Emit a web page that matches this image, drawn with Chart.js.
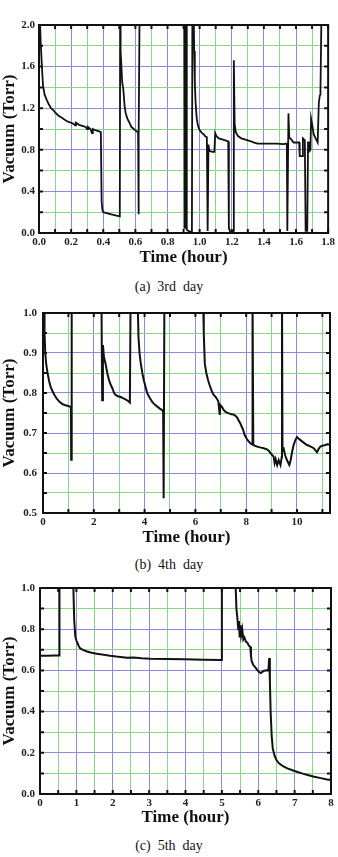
<!DOCTYPE html>
<html>
<head>
<meta charset="utf-8">
<script src="https://cdn.jsdelivr.net/npm/chart.js@4/dist/chart.umd.min.js"></script>
<style>
  html, body { margin:0; padding:0; background:#fff; }
  body { width:338px; height:857px; position:relative; overflow:hidden; }
  .box { position:absolute; left:0; width:338px; }
  .cap { position:absolute; left:0; width:338px; text-align:center; font-family:'Liberation Serif','Times New Roman',serif; font-size:14px; line-height:16px; color:#111; }
</style>
</head>
<body>
<div class="box" style="top:0;height:272px"><canvas id="cA" width="338" height="272"></canvas></div>
<div class="cap" style="top:279px">(a)&nbsp; 3rd&nbsp; day</div>
<div class="box" style="top:295px;height:255px"><canvas id="cB" width="338" height="255"></canvas></div>
<div class="cap" style="top:557px">(b)&nbsp; 4th&nbsp; day</div>
<div class="box" style="top:575px;height:255px"><canvas id="cC" width="338" height="255"></canvas></div>
<div class="cap" style="top:838px">(c)&nbsp; 5th&nbsp; day</div>
<script>
// ---------- (a) 3rd day ----------
const timeA = [0.000,0.005,0.010,0.018,0.025,0.035,0.048,0.060,0.075,0.090,0.100,0.120,0.140,0.160,0.180,0.200,0.215,0.225,0.230,0.250,0.270,0.290,0.300,0.305,0.320,0.330,0.335,0.350,0.370,0.385,0.390,0.395,0.400,0.450,0.503,0.506,0.508,0.513,0.518,0.525,0.533,0.540,0.550,0.560,0.575,0.590,0.605,0.617,0.619,0.622,0.627,0.700,0.800,0.905,0.907,0.911,0.914,0.917,0.920,0.930,0.945,0.952,0.955,0.962,0.966,0.970,0.975,0.982,0.990,1.000,1.015,1.025,1.035,1.045,1.050,1.055,1.060,1.080,1.092,1.097,1.105,1.120,1.140,1.160,1.178,1.182,1.190,1.200,1.208,1.213,1.218,1.225,1.240,1.260,1.280,1.300,1.320,1.340,1.360,1.380,1.400,1.440,1.480,1.520,1.543,1.546,1.550,1.553,1.558,1.570,1.585,1.605,1.620,1.623,1.640,1.643,1.650,1.655,1.660,1.670,1.675,1.680,1.690,1.694,1.700,1.710,1.725,1.735,1.742,1.748,1.752,1.760];
const vacA  = [2.30,2.10,1.85,1.60,1.42,1.33,1.28,1.24,1.20,1.18,1.16,1.13,1.11,1.09,1.07,1.06,1.05,1.035,1.06,1.04,1.03,1.02,1.00,1.02,1.00,0.96,1.00,0.99,0.98,0.97,0.30,0.22,0.20,0.18,0.16,2.30,1.75,1.60,1.45,1.38,1.22,1.15,1.10,1.07,1.02,1.00,0.98,0.97,0.18,0.95,2.30,2.30,2.30,2.30,0.05,0.05,2.30,2.30,0.03,0.02,0.01,0.00,2.30,2.30,1.75,1.45,1.25,1.10,1.03,0.99,0.96,0.95,0.93,0.92,0.02,0.85,0.79,0.78,0.78,0.96,0.93,0.91,0.90,0.89,0.88,0.05,0.01,0.00,0.02,1.66,1.05,0.97,0.93,0.91,0.90,0.89,0.88,0.87,0.86,0.86,0.86,0.86,0.86,0.855,0.86,0.02,0.02,1.15,0.92,0.90,0.87,0.87,0.87,0.74,0.74,0.91,0.90,0.88,0.02,0.02,0.88,0.78,0.80,1.10,1.05,0.95,0.90,0.87,1.25,1.32,1.33,2.30];

// ---------- (b) 4th day ----------
const timeB = [0.00,0.04,0.06,0.09,0.13,0.18,0.24,0.30,0.37,0.45,0.55,0.65,0.75,0.85,0.96,1.06,1.10,1.11,1.13,2.30,2.33,2.36,2.40,2.46,2.53,2.60,2.67,2.73,2.80,2.86,2.95,3.06,3.15,3.25,3.35,3.42,3.45,3.72,3.76,3.80,3.85,3.91,3.97,4.04,4.10,4.20,4.30,4.40,4.50,4.60,4.70,4.73,4.75,4.78,6.30,6.33,6.37,6.43,6.50,6.56,6.63,6.70,6.80,6.90,6.96,6.98,7.05,7.12,7.20,7.32,7.42,7.51,7.58,7.64,7.70,7.77,7.83,7.88,7.94,8.01,8.08,8.17,8.23,8.25,8.28,8.35,8.43,8.55,8.69,8.82,8.90,8.95,9.02,9.08,9.12,9.16,9.22,9.28,9.35,9.40,9.41,9.43,9.48,9.53,9.60,9.66,9.70,9.75,9.80,9.86,9.94,10.00,10.10,10.20,10.30,10.40,10.50,10.60,10.66,10.72,10.79,10.85,10.92,11.00,11.12,11.20,11.31];
const vacB  = [1.05,1.05,0.95,0.90,0.87,0.85,0.83,0.815,0.805,0.795,0.785,0.778,0.773,0.770,0.768,0.766,0.765,0.633,1.05,1.05,0.782,0.92,0.89,0.874,0.85,0.832,0.82,0.812,0.80,0.795,0.792,0.79,0.787,0.784,0.78,0.776,1.05,1.05,0.94,0.90,0.874,0.85,0.832,0.815,0.80,0.788,0.778,0.771,0.766,0.761,0.757,0.753,0.537,1.05,1.05,0.95,0.874,0.85,0.832,0.82,0.807,0.797,0.79,0.78,0.745,0.77,0.765,0.757,0.752,0.749,0.747,0.746,0.743,0.739,0.732,0.724,0.715,0.708,0.695,0.687,0.680,0.674,0.672,1.05,0.670,0.668,0.666,0.664,0.662,0.659,0.655,0.650,0.645,0.641,0.625,0.635,0.620,0.632,0.620,0.64,1.05,0.655,0.660,0.645,0.633,0.625,0.620,0.632,0.650,0.668,0.683,0.690,0.684,0.679,0.674,0.670,0.667,0.664,0.662,0.657,0.652,0.660,0.666,0.668,0.670,0.672,0.671];

// ---------- (c) 5th day ----------
const timeC = [0.00,0.20,0.40,0.53,0.535,0.91,0.94,0.97,1.00,1.03,1.06,1.10,1.18,1.29,1.42,1.56,1.75,1.93,2.10,2.21,2.40,2.57,2.80,3.03,3.50,3.95,4.50,4.98,5.00,5.37,5.40,5.43,5.45,5.47,5.49,5.51,5.53,5.56,5.59,5.62,5.66,5.70,5.74,5.78,5.80,5.82,5.86,5.92,5.97,6.02,6.07,6.12,6.16,6.25,6.28,6.30,6.32,6.34,6.37,6.40,6.45,6.50,6.57,6.68,6.80,6.94,7.08,7.22,7.36,7.54,7.72,7.86,8.00];
const vacC  = [0.671,0.671,0.672,0.672,1.05,1.05,0.846,0.765,0.745,0.733,0.72,0.708,0.70,0.692,0.686,0.681,0.676,0.671,0.667,0.665,0.662,0.663,0.659,0.657,0.655,0.654,0.652,0.651,1.05,1.05,0.90,0.846,0.80,0.84,0.76,0.82,0.77,0.80,0.75,0.76,0.74,0.735,0.72,0.715,0.67,0.645,0.627,0.615,0.603,0.592,0.587,0.594,0.598,0.601,0.60,0.66,0.55,0.40,0.28,0.22,0.185,0.165,0.149,0.135,0.124,0.115,0.107,0.099,0.092,0.084,0.077,0.072,0.068];

const FONT = "'Liberation Serif','Times New Roman',serif";
const BLUE = '#8c8cde';
const GREEN = '#86d886';
Chart.defaults.font.family = FONT;
Chart.defaults.color = '#111';

function isMajor(v, step) {
  const r = v / step;
  return Math.abs(r - Math.round(r)) < 1e-6;
}

const framePlugin = {
  id: 'frame',
  afterDatasetsDraw(chart) {
    const {ctx, chartArea: a, scales} = chart;
    ctx.save();
    ctx.strokeStyle = '#111';
    ctx.lineWidth = 2;
    const L = 4;
    ctx.beginPath();
    scales.x.ticks.forEach(t => {
      const px = scales.x.getPixelForValue(t.value);
      ctx.moveTo(px, a.bottom); ctx.lineTo(px, a.bottom - L);
      ctx.moveTo(px, a.top); ctx.lineTo(px, a.top + L);
    });
    scales.y.ticks.forEach(t => {
      const py = scales.y.getPixelForValue(t.value);
      ctx.moveTo(a.left, py); ctx.lineTo(a.left + L, py);
      ctx.moveTo(a.right, py); ctx.lineTo(a.right - L, py);
    });
    ctx.stroke();
    ctx.strokeRect(a.left, a.top, a.right - a.left, a.bottom - a.top);
    ctx.restore();
  }
};

function makeChart(id, times, vals, cfg) {
  const pts = times.map((t, i) => ({x: t, y: vals[i]}));
  return new Chart(document.getElementById(id), {
    type: 'line',
    data: { datasets: [{ data: pts, borderColor: '#111', borderWidth: cfg.lw, pointRadius: 0, tension: 0, fill: false }] },
    plugins: [framePlugin],
    options: {
      responsive: false,
      animation: false,
      layout: { padding: { top: cfg.padTop, right: cfg.padRight, left: 0, bottom: 0 } },
      plugins: { legend: { display: false }, tooltip: { enabled: false } },
      scales: {
        x: {
          type: 'linear', min: cfg.xMin, max: cfg.xMax,
          afterFit: s => { s.height = cfg.xH; },
          grid: { drawTicks: false, lineWidth: 1, color: c => isMajor(c.tick.value, cfg.xMajor) ? BLUE : GREEN },
          border: { display: false },
          ticks: { stepSize: cfg.xMinor, autoSkip: false, includeBounds: false, maxRotation: 0, padding: 3,
                   font: { size: 11, weight: 'bold', family: FONT }, color: '#222',
                   callback: v => isMajor(v, cfg.xMajor) ? v.toFixed(cfg.xDec) : '' },
          title: { display: true, text: 'Time (hour)', color: '#111', padding: { top: 0, bottom: cfg.xTitlePad },
                   font: { size: 17, weight: 'bold', family: FONT, lineHeight: 1.2 } }
        },
        y: {
          type: 'linear', min: cfg.yMin, max: cfg.yMax,
          afterFit: s => { s.width = cfg.yW; },
          grid: { drawTicks: false, lineWidth: 1, color: c => isMajor(c.tick.value, cfg.yMajor) ? BLUE : GREEN },
          border: { display: false },
          ticks: { stepSize: cfg.yMinor, autoSkip: false, includeBounds: false, padding: cfg.yPad,
                   font: { size: 11, weight: 'bold', family: FONT }, color: '#222',
                   callback: v => isMajor(v, cfg.yMajor) ? v.toFixed(1) : '' },
          title: { display: true, text: 'Vacuum (Torr)', color: '#111', padding: { top: 1, bottom: 0 },
                   font: { size: 17, weight: 'bold', family: FONT, lineHeight: 1.0 } }
        }
      }
    }
  });
}

makeChart('cA', timeA, vacA, { lw: 1.8, padTop: 25, padRight: 9, xH: 39, yW: 39, xMin: 0, xMax: 1.8, xMinor: 0.1, xMajor: 0.2, xDec: 1,
  yMin: 0, yMax: 2.0, yMinor: 0.2, yMajor: 0.4, yPad: 4, xTitlePad: 4 });
makeChart('cB', timeB, vacB, { lw: 2, padTop: 18, padRight: 8, xH: 37, yW: 43, xMin: 0, xMax: 11.3, xMinor: 1, xMajor: 2, xDec: 0,
  yMin: 0.5, yMax: 1.0, yMinor: 0.05, yMajor: 0.1, yPad: 6, xTitlePad: 2 });
makeChart('cC', timeC, vacC, { lw: 2, padTop: 13, padRight: 7, xH: 36, yW: 40, xMin: 0, xMax: 8, xMinor: 0.5, xMajor: 1, xDec: 0,
  yMin: 0, yMax: 1.0, yMinor: 0.1, yMajor: 0.2, yPad: 5, xTitlePad: 2 });
</script>
</body>
</html>
